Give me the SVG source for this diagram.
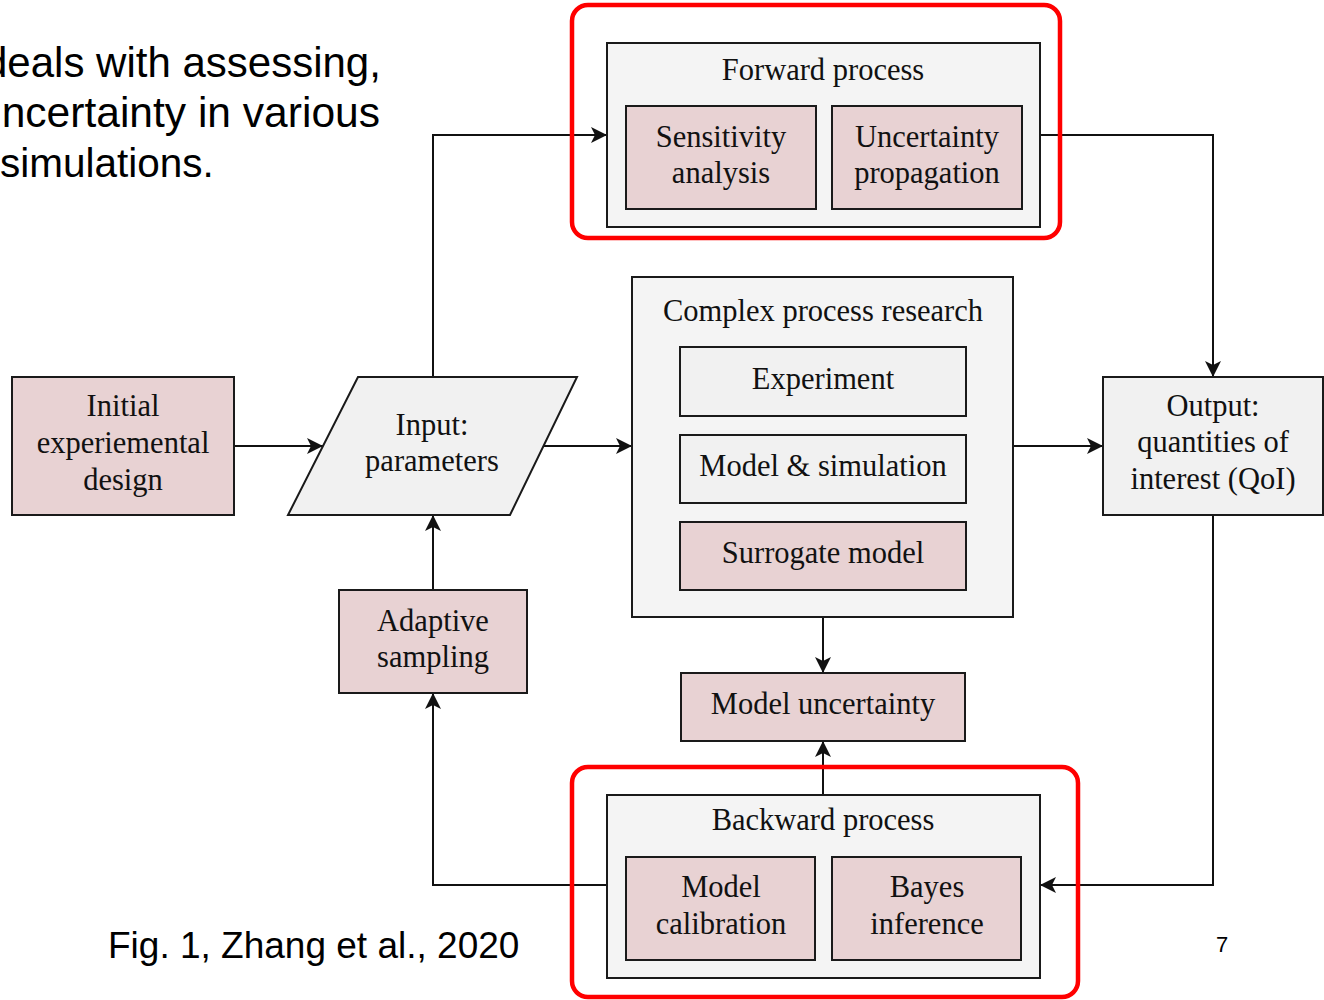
<svg xmlns="http://www.w3.org/2000/svg" width="1324" height="1000" viewBox="0 0 1324 1000">
  <style>
    .box { stroke: #1a1a1a; stroke-width: 2; }
    .pink { fill: #e8d2d3; }
    .grey { fill: #f1f1f1; }
    .panel { fill: #f4f4f4; }
    .lbl { font-family: "Liberation Serif", "Times New Roman", serif; font-size: 30.5px; fill: #111; text-anchor: middle; }
    .conn { fill: none; stroke: #111; stroke-width: 2; }
    .hl { fill: none; stroke: #ff0000; stroke-width: 4.5; }
    .sans { font-family: "Liberation Sans", Arial, sans-serif; fill: #000; }
  </style>
  <defs>
    <marker id="arrow" markerUnits="userSpaceOnUse" markerWidth="18" markerHeight="18" refX="16" refY="8" orient="auto">
      <path d="M0,0 L16,8 L0,16 L4,8 z" fill="#111"/>
    </marker>
  </defs>

  <rect width="1324" height="1000" fill="#ffffff"/>

  <!-- slide body text, running off the left edge -->
  <g id="slide-text" class="sans" font-size="42">
    <text x="-16" y="77">deals with assessing,</text>
    <text x="-22" y="127" textLength="402" lengthAdjust="spacingAndGlyphs">uncertainty in various</text>
    <text x="0" y="177" font-size="40.5">simulations.</text>
  </g>
  <text id="caption" class="sans" x="108" y="958" font-size="37">Fig. 1, Zhang et al., 2020</text>
  <text id="page-number" class="sans" x="1216" y="952" font-size="22">7</text>

  <!-- connectors -->
  <g id="connectors">
    <path class="conn" d="M234,446 L323,446" marker-end="url(#arrow)"/>
    <path class="conn" d="M433,377 L433,135 L607,135" marker-end="url(#arrow)"/>
    <path class="conn" d="M543,446 L632,446" marker-end="url(#arrow)"/>
    <path class="conn" d="M1013,446 L1103,446" marker-end="url(#arrow)"/>
    <path class="conn" d="M1040,135 L1213,135 L1213,377" marker-end="url(#arrow)"/>
    <path class="conn" d="M1213,515 L1213,885 L1040,885" marker-end="url(#arrow)"/>
    <path class="conn" d="M823,617 L823,673" marker-end="url(#arrow)"/>
    <path class="conn" d="M823,795 L823,741" marker-end="url(#arrow)"/>
    <path class="conn" d="M607,885 L433,885 L433,693" marker-end="url(#arrow)"/>
    <path class="conn" d="M433,590 L433,515" marker-end="url(#arrow)"/>
    <path class="conn" d="M823,416 L823,435" marker-end="url(#arrow)"/>
    <path class="conn" d="M823,503 L823,522" marker-end="url(#arrow)"/>
  </g>

  <!-- nodes -->
  <g id="initial-design">
    <rect class="box pink" x="12" y="377" width="222" height="138"/>
    <text class="lbl" x="123" y="416">Initial</text>
    <text class="lbl" x="123" y="453">experiemental</text>
    <text class="lbl" x="123" y="490">design</text>
  </g>

  <g id="input-parameters">
    <polygon class="box grey" points="358,377 577,377 510,515 288,515"/>
    <text class="lbl" x="432" y="435">Input:</text>
    <text class="lbl" x="432" y="471">parameters</text>
  </g>

  <g id="adaptive-sampling">
    <rect class="box pink" x="339" y="590" width="188" height="103"/>
    <text class="lbl" x="433" y="631">Adaptive</text>
    <text class="lbl" x="433" y="667">sampling</text>
  </g>

  <g id="forward-process">
    <rect class="box panel" x="607" y="43" width="433" height="184"/>
    <text class="lbl" x="823" y="80">Forward process</text>
  </g>
  <g id="sensitivity-analysis">
    <rect class="box pink" x="626" y="106" width="190" height="103"/>
    <text class="lbl" x="721" y="147">Sensitivity</text>
    <text class="lbl" x="721" y="183">analysis</text>
  </g>
  <g id="uncertainty-propagation">
    <rect class="box pink" x="832" y="106" width="190" height="103"/>
    <text class="lbl" x="927" y="147">Uncertainty</text>
    <text class="lbl" x="927" y="183">propagation</text>
  </g>

  <g id="complex-process">
    <rect class="box panel" x="632" y="277" width="381" height="340"/>
    <text class="lbl" x="823" y="321">Complex process research</text>
  </g>
  <g id="experiment">
    <rect class="box grey" x="680" y="347" width="286" height="69"/>
    <text class="lbl" x="823" y="389">Experiment</text>
  </g>
  <g id="model-simulation">
    <rect class="box grey" x="680" y="435" width="286" height="68"/>
    <text class="lbl" x="823" y="476">Model &amp; simulation</text>
  </g>
  <g id="surrogate-model">
    <rect class="box pink" x="680" y="522" width="286" height="68"/>
    <text class="lbl" x="823" y="563">Surrogate model</text>
  </g>

  <g id="model-uncertainty">
    <rect class="box pink" x="681" y="673" width="284" height="68"/>
    <text class="lbl" x="823" y="714">Model uncertainty</text>
  </g>

  <g id="output-qoi">
    <rect class="box grey" x="1103" y="377" width="220" height="138"/>
    <text class="lbl" x="1213" y="416">Output:</text>
    <text class="lbl" x="1213" y="452">quantities of</text>
    <text class="lbl" x="1213" y="489">interest (QoI)</text>
  </g>

  <g id="backward-process">
    <rect class="box panel" x="607" y="795" width="433" height="183"/>
    <text class="lbl" x="823" y="830">Backward process</text>
  </g>
  <g id="model-calibration">
    <rect class="box pink" x="626" y="857" width="189" height="103"/>
    <text class="lbl" x="721" y="897">Model</text>
    <text class="lbl" x="721" y="934">calibration</text>
  </g>
  <g id="bayes-inference">
    <rect class="box pink" x="832" y="857" width="189" height="103"/>
    <text class="lbl" x="927" y="897">Bayes</text>
    <text class="lbl" x="927" y="934">inference</text>
  </g>

  <!-- red highlight frames -->
  <g id="highlights">
    <rect class="hl" x="572" y="5" width="488" height="233" rx="16"/>
    <rect class="hl" x="572" y="767" width="506" height="230" rx="16"/>
  </g>
</svg>
